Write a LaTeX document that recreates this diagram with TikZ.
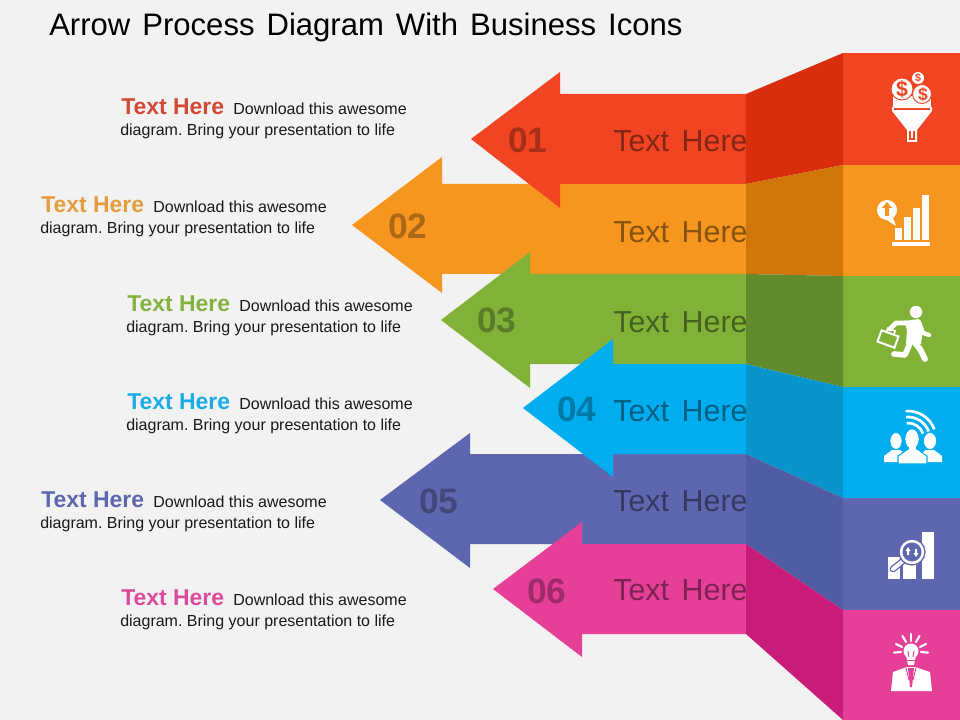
\documentclass[tikz,border=0pt]{standalone}
\usepackage{fontspec}
\setmainfont{Liberation Sans}
\frenchspacing
\definecolor{BG}{HTML}{F2F2F2}
\definecolor{RD}{HTML}{F04423}
\definecolor{OG}{HTML}{F7961E}
\definecolor{GN}{HTML}{81B237}
\definecolor{BU}{HTML}{00AEEF}
\definecolor{PU}{HTML}{5E66AF}
\definecolor{PK}{HTML}{E63F98}
\definecolor{RD2}{HTML}{D92E0E}
\definecolor{OG2}{HTML}{D1770A}
\definecolor{GN2}{HTML}{628A2A}
\definecolor{BU2}{HTML}{0795CB}
\definecolor{PU2}{HTML}{505CA3}
\definecolor{PK2}{HTML}{C91C78}
\definecolor{RD3}{HTML}{D24A36}
\definecolor{OG3}{HTML}{E49C3C}
\definecolor{GN3}{HTML}{84B23E}
\definecolor{BU3}{HTML}{19ACE6}
\definecolor{PU3}{HTML}{5E66AF}
\definecolor{PK3}{HTML}{DC4A9C}
\newcommand{\HeadTxt}[1]{{\fontsize{17.2}{20}\selectfont\bfseries\color{#1}Text Here}\hspace{3.6pt}}
\newcommand{\TitleFont}{\fontsize{23.3}{28}\selectfont\spaceskip 9pt\relax}
\newcommand{\BandFont}{\fontsize{22.8}{28}\selectfont\spaceskip 9.5pt\relax}
\tikzset{
    TT/.style ={anchor=base west,inner sep=0pt,font=\TitleFont},
    BL/.style ={anchor=base west,inner sep=0pt,font=\fontsize{12}{14}\selectfont,text=black!90},
    TX/.style ={anchor=base west,inner sep=0pt,font=\BandFont,text=black,text opacity=.45},
    NM/.style ={anchor=base west,inner sep=0pt,font=\fontsize{26.5}{30}\selectfont\bfseries,text=black,text opacity=.3},
    DL/.style ={inner sep=0pt,font=\fontsize{10}{10}\selectfont\bfseries},
    IC/.style ={white,line width=2pt},
    RY/.style ={white,line width=1.6pt,line cap=round}}
\begin{document}
\begin{tikzpicture}[x=0.75pt,y=-0.75pt]
        \useasboundingbox (0,0) rectangle (960,720);
        \fill[BG] (0,0) rectangle (960,720);
        % arrows
        \fill[OG] (352,225) --(442,157) --(442,184) --(746,184) --(746,274) --(442,274) --(442,293) --cycle;
        \fill[RD] (471,139) --(560,72) --(560,94) --(746,94) --(746,184) --(560,184) --(560,208) --cycle;
        \fill[GN] (441,320) --(530,252) --(530,274) --(746,274) --(746,364) --(530,364) --(530,388) --cycle;
        \fill[PU] (380,500) --(470,433) --(470,454) --(746,454) --(746,544) --(470,544) --(470,568) --cycle;
        \fill[BU] (523,408) --(613,339) --(613,364) --(746,364) --(746,454) --(613,454) --(613,477) --cycle;
        \fill[PK] (493,589) --(582,522) --(582,544) --(746,544) --(746,634) --(582,634) --(582,657) --cycle;
        % folds
        \fill[RD2] (746,94) --(843,53) --(843,165) --(746,184) --cycle;
        \fill[OG2] (746,184) --(843,165) --(843,276) --(746,274) --cycle;
        \fill[GN2] (746,274) --(843,276) --(843,387) --(746,364) --cycle;
        \fill[BU2] (746,364) --(843,387) --(843,498) --(746,454) --cycle;
        \fill[PU2] (746,454) --(843,498) --(843,610) --(746,544) --cycle;
        \fill[PK2] (746,544) --(843,610) --(843,720) --(746,634) --cycle;
        % panels
        \fill[RD] (843,53) rectangle (960,165);
        \fill[OG] (843,165) rectangle (960,276);
        \fill[GN] (843,276) rectangle (960,387);
        \fill[BU] (843,387) rectangle (960,498);
        \fill[PU] (843,498) rectangle (960,610);
        \fill[PK] (843,610) rectangle (960,720);
        % texts
        \node[TT] (title) at (49,36){Arrow Process Diagram With Business Icons};
        \node[NM] (n1) at (508,153){01};
        \node[NM] (n2) at (388,239){02};
        \node[NM] (n3) at (477,332){03};
        \node[NM] (n4) at (557,421){04};
        \node[NM] (n5) at (419,513){05};
        \node[NM] (n6) at (527,603){06};
        \node[TX] (t1) at (613,152){Text Here};
        \node[TX] (t2) at (613,243){Text Here};
        \node[TX] (t3) at (613,332){Text Here};
        \node[TX] (t4) at (613,421){Text Here};
        \node[TX] (t5) at (613,511){Text Here};
        \node[TX] (t6) at (613,600){Text Here};
        \node[BL] (h1) at (121,115){\HeadTxt{RD3} Download this awesome};
        \node[BL] (b1) at (120,136){diagram. Bring your presentation to life};
        \node[BL] (h2) at (41,213){\HeadTxt{OG3} Download this awesome};
        \node[BL] (b2) at (40,234){diagram. Bring your presentation to life};
        \node[BL] (h3) at (127,311){\HeadTxt{GN3} Download this awesome};
        \node[BL] (b3) at (126,332){diagram. Bring your presentation to life};
        \node[BL] (h4) at (127,409){\HeadTxt{BU3} Download this awesome};
        \node[BL] (b4) at (126,430){diagram. Bring your presentation to life};
        \node[BL] (h5) at (41,507){\HeadTxt{PU3} Download this awesome};
        \node[BL] (b5) at (40,528){diagram. Bring your presentation to life};
        \node[BL] (h6) at (121,605){\HeadTxt{PK3} Download this awesome};
        \node[BL] (b6) at (120,626){diagram. Bring your presentation to life};
        % funnel
        \fill[white] (893,108) --(893,96) --(931,96) --(931,108) --cycle;
        \draw[RD,fill=white,line width=.7pt] (922,94) circle (9.5);
        \draw[RD,fill=white,line width=.7pt] (902,89) circle (11);
        \fill[white] (918,78) circle (6);
        \fill[white] (892,107) --(932,107) --(932,111) --(917,130) --(917,142) --(907,142) --(907,130) --(892,111) --cycle;
        \draw[RD,line width=.8pt] (894,109) --(930,109);
        \draw[RD,line width=.8pt] (910,131) --(910,139) --(914,139) --(914,131);
        \node[DL,text=RD,font=\fontsize{16}{16}\selectfont\bfseries] (d1) at (902,89){\$};
        \node[DL,text=RD,font=\fontsize{8}{8}\selectfont\bfseries] (d2) at (918,78){\$};
        \node[DL,text=RD,font=\fontsize{13}{13}\selectfont\bfseries] (d3) at (923,95){\$};
        % bars with bubble
        \fill[white] (887,210) circle (10);
        \fill[white] (882,217) --(896,226) --(892,215) --cycle;
        \fill[OG] (887,202) --(892,208) --(889,208) --(889,216) --(885,216) --(885,208) --(882,208) --cycle;
        \fill[white] (895,228) rectangle (902,240);
        \fill[white] (904,217) rectangle (911,240);
        \fill[white] (913,208) rectangle (920,240);
        \fill[white] (922,195) rectangle (929,240);
        \fill[white] (892,242) rectangle (930,246);
        % runner
        \fill[white] (916,312) circle (6.2);
        \fill[white] (904,321) --(919,319) --(923,330) --(921,344) --(906,344) --(907,330) --cycle;
        \draw[RY,line width=3.6pt,line join=round] (890,329) --(896,323) --(906,323);
        \draw[RY,line width=3.2pt,line join=round] (919,322) --(923,333) --(929,335);
        \draw[RY,line width=4.2pt,line join=round] (910,343) --(905,355) --(894,354);
        \draw[RY,line width=4.4pt,line join=round] (915,343) --(920,349) --(925,359);
        \draw[IC,line width=1.5pt,rotate around={-20:(888,339)}] (879,333) rectangle (897,345);
        \draw[IC,line width=1.2pt,rotate around={-20:(888,339)}] (884,333) --(884,329) --(892,329) --(892,333);
        % people
        \draw[IC] (908,439) ++(-20:28) arc (-20:-95:28);
        \draw[IC] (908,439) ++(-20:22) arc (-20:-95:22);
        \draw[IC] (908,439) ++(-20:16) arc (-20:-95:16);
        \draw[BU,fill=white,line width=.5pt] (896,441) ellipse (6 and 8.5);
        \draw[BU,fill=white,line width=.5pt] (930,441) ellipse (6.5 and 8.5);
        \fill[white] (884,462) --(884,456) --(892,450) --(900,450) --(908,456) --(908,462) --cycle;
        \fill[white] (918,462) --(918,456) --(926,450) --(934,450) --(942,456) --(942,462) --cycle;
        \draw[BU,fill=white,line width=.8pt] (912,439) ellipse (7 and 10);
        \draw[BU,fill=white,line width=.8pt] (898,464) --(898,456) --(908,449) --(917,449) --(927,456) --(927,464) --cycle;
        \fill[white] (912,439) ellipse (6.6 and 9.6);
        \fill[white] (909,445) rectangle (916,452);
        % magnifier with bars
        \fill[white] (888,557) rectangle (900,579);
        \fill[white] (903,563) rectangle (916,579);
        \fill[white] (922,532) rectangle (934,579);
        \draw[PU,line width=5pt,line cap=round] (903,561) --(893,569);
        \draw[white,line width=3pt,line cap=round] (903,561) --(893,569);
        \draw[PU,fill=white,line width=1pt] (912,552) circle (13);
        \fill[PU] (912,552) circle (9.5);
        \fill[white] (908,547) --(910.5,551) --(909,551) --(909,555) --(907,555) --(907,551) --(905.5,551) --cycle;
        \fill[white] (916,557) --(918.5,553) --(917,553) --(917,549) --(915,549) --(915,553) --(913.5,553) --cycle;
        % bulb man
        \fill[white] (911,651) circle (7.5);
        \fill[white] (906,655) --(916,655) --(914,665) --(908,665) --cycle;
        \draw[PK,line width=.7pt] (908,651) --(909,657);
        \draw[PK,line width=.7pt] (914,651) --(913,657);
        \draw[PK,line width=.7pt] (907,660) --(915,660);
        \draw[RY] (911,641) --(911,634);
        \draw[RY] (916,642) --(919.5,636);
        \draw[RY] (906,642) --(902.5,636);
        \draw[RY] (920,647) --(926,644);
        \draw[RY] (902,647) --(896,644);
        \draw[RY] (921,652) --(928,652.6);
        \draw[RY] (901,652) --(894,652.6);
        \fill[white] (891,691) --(893,672) --(907,667) --(915,667) --(930,672) --(932,691) --cycle;
        \fill[PK] (908,668) --(914,668) --(912,687) --(910,687) --cycle;
        \draw[PK,line width=.7pt] (906,668) --(909,680);
        \draw[PK,line width=.7pt] (916,668) --(913,680);
\end{tikzpicture}
\end{document}
